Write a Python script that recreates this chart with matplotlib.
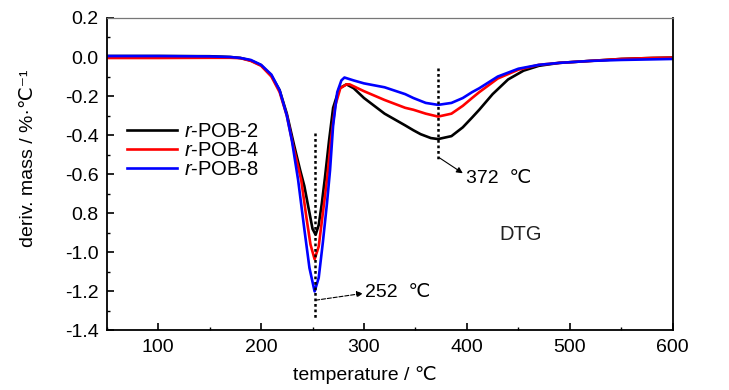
import matplotlib
matplotlib.use("Agg")
import matplotlib.pyplot as plt
from matplotlib.ticker import MultipleLocator, FixedLocator, FixedFormatter

plt.rcParams['font.family'] = ['Liberation Sans', 'DejaVu Sans']
plt.rcParams['mathtext.fontset'] = 'custom'
plt.rcParams['mathtext.rm'] = 'Liberation Sans'
plt.rcParams['mathtext.it'] = 'Liberation Sans:italic'

# values (temperature in degC, DTG in %/degC)
t_pob2 = [50, 100, 150, 170, 180, 190, 200, 210, 218, 225, 232, 238, 242, 246, 250, 253,
          256, 259, 262, 266, 270, 276, 283, 290, 300, 320, 340, 348, 355, 365, 372,
          385, 396, 405, 412, 425, 440, 455, 470, 490, 520, 550, 580, 600]
d_pob2 = [0.005, 0.005, 0.004, 0.0, -0.005, -0.018, -0.042, -0.095, -0.17, -0.29, -0.45, -0.58,
          -0.66, -0.77, -0.88, -0.91, -0.86, -0.75, -0.62, -0.43, -0.26, -0.16, -0.14, -0.16,
          -0.21, -0.29, -0.35, -0.375, -0.395, -0.415, -0.42, -0.405, -0.36, -0.31, -0.27,
          -0.19, -0.115, -0.07, -0.045, -0.03, -0.02, -0.01, -0.005, -0.003]

t_pob4 = [50, 100, 150, 170, 180, 190, 200, 210, 218, 225, 231, 235, 239, 244, 248, 252,
          256, 260, 264, 268, 272, 277, 283, 286, 300, 320, 340, 348, 360, 372,
          385, 396, 405, 412, 430, 450, 470, 490, 520, 550, 580, 600]
d_pob4 = [-0.005, -0.005, -0.004, -0.004, -0.006, -0.02, -0.045, -0.1, -0.18, -0.3, -0.45,
          -0.54, -0.63, -0.82, -0.96, -1.035, -0.97, -0.8, -0.63, -0.42, -0.25, -0.16,
          -0.14, -0.14, -0.175, -0.22, -0.26, -0.27, -0.29, -0.305, -0.29, -0.25, -0.21,
          -0.18, -0.11, -0.065, -0.04, -0.03, -0.02, -0.01, -0.005, -0.003]

t_pob8 = [50, 100, 150, 170, 180, 190, 200, 210, 218, 225, 230, 236, 242, 247, 252,
          256, 260, 264, 267, 270, 274, 278, 281, 290, 300, 320, 340, 348, 360, 372,
          385, 396, 405, 412, 430, 450, 470, 490, 520, 550, 580, 600]
d_pob8 = [0.005, 0.005, 0.003, 0.0, -0.005, -0.015, -0.04, -0.09, -0.17, -0.3, -0.43,
          -0.63, -0.88, -1.08, -1.2, -1.13, -0.95, -0.75, -0.58, -0.35, -0.18, -0.12,
          -0.105, -0.12, -0.135, -0.155, -0.19, -0.21, -0.235, -0.245, -0.235, -0.21,
          -0.18, -0.16, -0.1, -0.06, -0.04, -0.03, -0.02, -0.015, -0.012, -0.01]

y_ticks = [0.2, 0.0, -0.2, -0.4, -0.6, -0.8, -1.0, -1.2, -1.4]
y_tick_labels = ['0.2', '0.0', '-0.2', '-0.4', '-0.6', '0.8', '-1.0', '-1.2', '-1.4']

fig = plt.figure(figsize=(7.29, 3.9), dpi=100)
ax = fig.add_axes([0.1464, 0.1526, 0.7764, 0.8014])

ax.plot(t_pob2, d_pob2, color='black', lw=1.9, label=r'$\mathit{r}$-POB-2')
ax.plot(t_pob4, d_pob4, color='#ff0000', lw=1.9, label=r'$\mathit{r}$-POB-4')
ax.plot(t_pob8, d_pob8, color='#0000ff', lw=1.9, label=r'$\mathit{r}$-POB-8')

# peak markers
ax.plot([252, 252], [-0.39, -1.34], color='black', lw=1.8, ls=(0, (1.1, 1.1)))
ax.plot([372, 372], [-0.055, -0.53], color='black', lw=1.8, ls=(0, (1.1, 1.1)))
ax.annotate('', xy=(299, -1.21), xytext=(253, -1.245),
            arrowprops=dict(arrowstyle='-|>', color='black', lw=0.8, ls='--',
                            shrinkA=0, shrinkB=0, mutation_scale=9))
ax.text(301, -1.205, '252  ℃', fontsize=14, va='center', ha='left')
ax.annotate('', xy=(396, -0.595), xytext=(373, -0.515),
            arrowprops=dict(arrowstyle='-|>', color='black', lw=0.8,
                            shrinkA=0, shrinkB=0, mutation_scale=9))
ax.text(399, -0.622, '372  ℃', fontsize=14, va='center', ha='left')
ax.text(432, -0.91, 'DTG', fontsize=14.5, va='center', ha='left', color='#222222')

ax.set_xlim(50, 600)
ax.set_ylim(-1.4, 0.2)
ax.xaxis.set_major_locator(MultipleLocator(100))
ax.xaxis.set_minor_locator(MultipleLocator(50))
ax.yaxis.set_major_locator(FixedLocator(y_ticks))
ax.yaxis.set_major_formatter(FixedFormatter(y_tick_labels))
ax.yaxis.set_minor_locator(MultipleLocator(0.1))
ax.tick_params(which='both', direction='in', top=False, right=False, labelsize=14)
ax.tick_params(which='major', length=5, width=1.2, pad=6)
ax.tick_params(which='minor', length=2.5, width=1.0)

for side in ['left', 'bottom', 'right']:
    ax.spines[side].set_linewidth(1.3)
ax.spines['top'].set_color('#777777')
ax.spines['top'].set_linewidth(0.9)

ax.set_xlabel('temperature / ℃', fontsize=14)
ax.xaxis.set_label_coords(0.456, -0.115)
ax.set_ylabel('deriv. mass / %·℃⁻¹', fontsize=14)
ax.yaxis.set_label_coords(-0.123, 0.552)

ax.legend(loc='upper left', bbox_to_anchor=(0.018, 0.7), frameon=False, fontsize=14.5,
          handlelength=2.5, handletextpad=0.35, labelspacing=0.0, borderpad=0)

fig.savefig('out.png', dpi=100)
